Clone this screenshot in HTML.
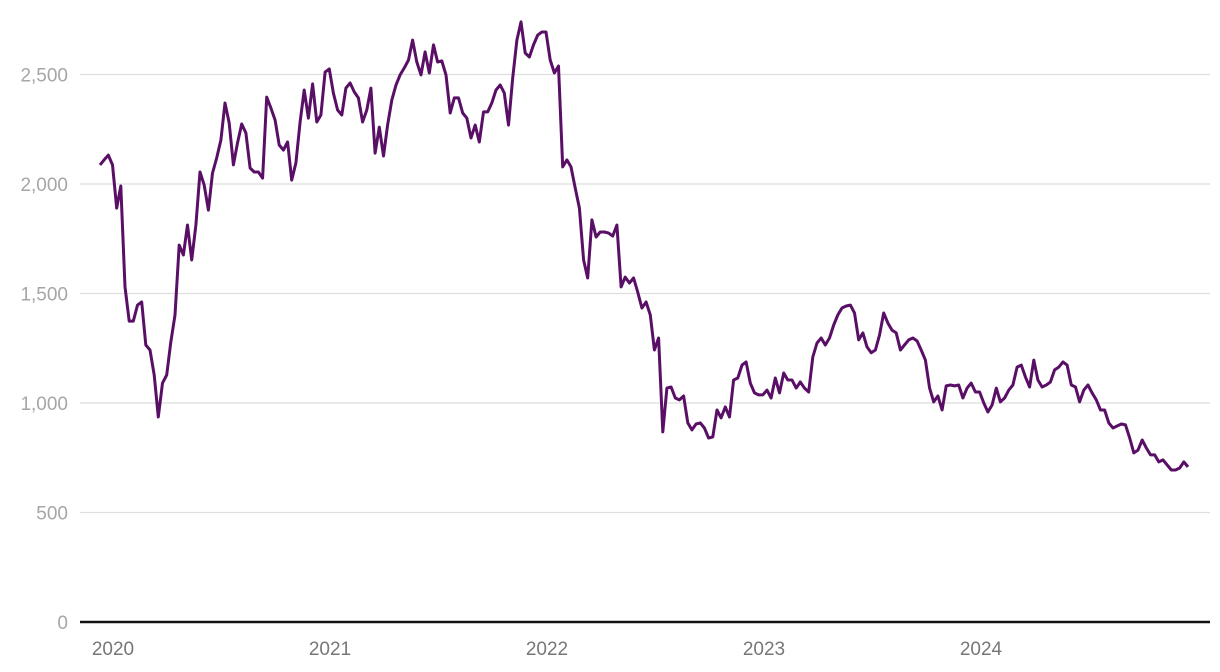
<!DOCTYPE html>
<html><head><meta charset="utf-8">
<style>
html,body{margin:0;padding:0;background:#fff;}
svg{display:block;font-family:"Liberation Sans",Arial,sans-serif;}
</style></head>
<body>
<svg id="chart" width="1220" height="672" viewBox="0 0 1220 672" xmlns="http://www.w3.org/2000/svg">
<g id="grid"></g>
<g id="ylabels"></g>
<g id="xlabels"></g>
<line x1="80" x2="1210" y1="622" y2="622" stroke="#111" stroke-width="2.5"/>
<path id="series" fill="none" stroke="#5a0f66" stroke-width="3" stroke-linejoin="round"/>
</svg>
<script>
const yTicks = [0, 500, 1000, 1500, 2000, 2500];
const yTickLabels = ["0", "500", "1,000", "1,500", "2,000", "2,500"];
const xYears = [2020, 2021, 2022, 2023, 2024];
const startYear = 2019.94;
const endYear = 2024.954;
const values = [2087,2110,2132,2087,1890,1991,1530,1374,1374,1447,1461,1265,1242,1128,936,1091,1128,1278,1402,1721,1676,1813,1653,1813,2055,1995,1881,2050,2119,2201,2370,2278,2087,2187,2274,2233,2073,2055,2055,2027,2397,2347,2292,2178,2155,2192,2018,2096,2283,2429,2301,2457,2283,2315,2511,2525,2415,2338,2315,2438,2461,2420,2393,2283,2338,2438,2141,2260,2128,2269,2383,2452,2498,2530,2566,2657,2557,2498,2603,2507,2635,2557,2562,2498,2324,2393,2393,2324,2301,2210,2269,2192,2329,2329,2370,2429,2452,2415,2269,2484,2657,2740,2598,2580,2635,2680,2694,2694,2566,2507,2539,2078,2110,2078,1982,1890,1653,1571,1836,1758,1781,1781,1776,1762,1813,1530,1575,1548,1571,1507,1434,1461,1402,1242,1297,868,1068,1073,1023,1014,1032,909,877,904,909,886,840,845,968,932,982,936,1105,1114,1173,1187,1091,1046,1037,1037,1059,1023,1114,1046,1137,1105,1105,1068,1096,1068,1050,1210,1274,1297,1265,1297,1356,1402,1434,1443,1447,1411,1288,1320,1256,1229,1242,1310,1411,1365,1333,1320,1242,1265,1288,1297,1283,1242,1196,1068,1005,1032,968,1078,1082,1078,1082,1023,1068,1091,1050,1050,1000,959,991,1068,1005,1023,1059,1082,1164,1173,1119,1073,1196,1105,1073,1082,1096,1151,1164,1187,1173,1082,1073,1005,1059,1082,1046,1014,968,968,909,886,895,904,900,840,772,785,831,795,763,763,731,740,717,694,694,703,731,708];

const NS = "http://www.w3.org/2000/svg";
const y = v => 622 - v / 500 * 109.5;
const x = yr => 113 + (yr - 2020) * 217;

const grid = document.getElementById('grid');
const yl = document.getElementById('ylabels');
yTicks.forEach((t, i) => {
  if (t > 0) {
    const l = document.createElementNS(NS, 'line');
    
    
    l.setAttribute('x1', 80); l.setAttribute('x2', 1210);
    l.setAttribute('y1', y(t)); l.setAttribute('y2', y(t));
    l.setAttribute('stroke', '#dedede'); l.setAttribute('stroke-width', '1.2');
    grid.appendChild(l);
  }
  const tx = document.createElementNS(NS, 'text');
  
  
  tx.setAttribute('x', 68); tx.setAttribute('y', y(t) + 7);
  tx.setAttribute('text-anchor', 'end');
  tx.setAttribute('font-size', '19'); tx.setAttribute('fill', '#a6a6a6');
  tx.textContent = yTickLabels[i];
  yl.appendChild(tx);
});
const xl = document.getElementById('xlabels');
xYears.forEach(yr => {
  const tx = document.createElementNS(NS, 'text');
  
  
  tx.setAttribute('x', x(yr)); tx.setAttribute('y', 655);
  tx.setAttribute('text-anchor', 'middle');
  tx.setAttribute('font-size', '19'); tx.setAttribute('fill', '#777');
  tx.textContent = String(yr);
  xl.appendChild(tx);
});
const n = values.length;
let d = '';
values.forEach((v, i) => {
  const yr = startYear + (endYear - startYear) * i / (n - 1);
  d += (i ? 'L' : 'M') + x(yr).toFixed(1) + ',' + y(v).toFixed(1);
});
document.getElementById('series').setAttribute('d', d);
</script>
</body></html>
